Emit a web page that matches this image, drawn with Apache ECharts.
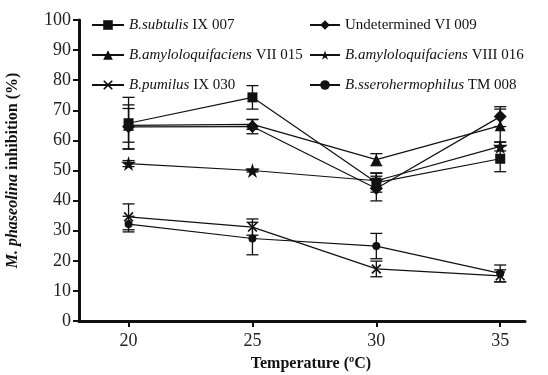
<!DOCTYPE html>
<html>
<head>
<meta charset="utf-8">
<script src="https://cdn.jsdelivr.net/npm/echarts@6/dist/echarts.min.js"></script>
<style>
  html, body { margin: 0; padding: 0; background: #fff; }
  #chart { width: 548px; height: 375px; }
</style>
</head>
<body>
<div id="chart"></div>
<script>
// temperatures (x)
const temps = [20, 25, 30, 35]
const xTicks = [20, 25, 30, 35]

// inhibition (%) and error bars
const subtulis = [65.7, 74.3, 46.0, 53.9]
const subtulisErr = [8.6, 3.9, 3.2, 4.3]
const undetermined = [64.5, 64.6, 44.0, 67.9]
const undeterminedErr = [7.3, 2.4, 4.1, 3.3]
const amyloVII = [65.0, 65.3, 53.6, 64.9]
const amyloVIIErr = [5.6, 1.6, 2.0, 5.5]
const amyloVIII = [52.3, 50.0, 46.6, 58.0]
const amyloVIIIErr = [1.0, 0.5, 2.5, 1.5]
const pumilus = [34.6, 31.2, 17.3, 15.0]
const pumilusErr = [4.3, 2.7, 2.6, 2.0]
const sseroher = [32.2, 27.4, 24.9, 15.8]
const sseroherErr = [2.6, 5.4, 4.2, 2.8]

const starPath = 'path://M50,0 L61,35 L98,35 L68,57 L79,91 L50,70 L21,91 L32,57 L2,35 L39,35 Z'
const crossPath = 'path://M0,1.2 L1.2,0 L5,3.8 L8.8,0 L10,1.2 L6.2,5 L10,8.8 L8.8,10 L5,6.2 L1.2,10 L0,8.8 L3.8,5 Z'

const seriesDefs = [
  { name: 'B.subtulis IX 007', values: subtulis, err: subtulisErr, symbol: 'rect', size: 10 },
  { name: 'Undetermined VI 009', values: undetermined, err: undeterminedErr, symbol: 'diamond', size: 13 },
  { name: 'B.amyloloquifaciens VII 015', values: amyloVII, err: amyloVIIErr, symbol: 'triangle', size: 11 },
  { name: 'B.amyloloquifaciens VIII 016', values: amyloVIII, err: amyloVIIIErr, symbol: starPath, size: 15 },
  { name: 'B.pumilus IX 030', values: pumilus, err: pumilusErr, symbol: crossPath, size: 10 },
  { name: 'B.sserohermophilus TM 008', values: sseroher, err: sseroherErr, symbol: 'circle', size: 8 }
]

const ink = '#111'
const serif = 'Liberation Serif'

const chart = echarts.init(document.getElementById('chart'))

const errorBar = (params, api) => {
  const x = api.value(0)
  const y = api.value(1)
  const e = api.value(2)
  const top = api.coord([x, y + e])
  const bot = api.coord([x, y - e])
  const hw = 6
  const style = { stroke: ink, lineWidth: 1.3 }
  return {
    type: 'group',
    children: [
      { type: 'line', shape: { x1: top[0], y1: top[1], x2: bot[0], y2: bot[1] }, style },
      { type: 'line', shape: { x1: top[0] - hw, y1: top[1], x2: top[0] + hw, y2: top[1] }, style },
      { type: 'line', shape: { x1: bot[0] - hw, y1: bot[1], x2: bot[0] + hw, y2: bot[1] }, style }
    ]
  }
}

const series = []
seriesDefs.forEach(d => {
  series.push({
    name: d.name,
    type: 'line',
    data: temps.map((t, i) => [t, d.values[i]]),
    symbol: d.symbol,
    symbolSize: d.size,
    showSymbol: true,
    lineStyle: { color: ink, width: 1.2 },
    itemStyle: { color: ink, borderColor: ink, borderWidth: 0 },
    z: 3
  })
  series.push({
    name: d.name + ' (error)',
    type: 'custom',
    renderItem: errorBar,
    data: temps.map((t, i) => [t, d.values[i], d.err[i]]),
    itemStyle: { color: ink },
    z: 1,
    silent: true
  })
})

const legendText = {
  fontFamily: serif,
  fontSize: 15,
  color: ink,
  lineHeight: 16,
  rich: {
    i: { fontFamily: serif, fontSize: 15, fontStyle: 'italic', color: ink }
  }
}
const legendFormatter = name => {
  if (name.startsWith('B.')) {
    const k = name.indexOf(' ')
    return '{i|' + name.slice(0, k) + '}' + name.slice(k)
  }
  return name
}

const option = {
  animation: false,
  color: [ink],
  grid: { left: 79, right: 23, top: 20, bottom: 54, outerBoundsMode: 'none' },
  legend: [
    {
      data: [seriesDefs[0].name, seriesDefs[2].name, seriesDefs[4].name],
      orient: 'vertical',
      left: 86, top: 12,
      itemWidth: 32, itemHeight: 12, itemGap: 14,
      textStyle: legendText,
      formatter: legendFormatter,
      selectedMode: false
    },
    {
      data: [seriesDefs[1].name, seriesDefs[3].name, seriesDefs[5].name],
      orient: 'vertical',
      left: 304, top: 12,
      itemWidth: 30, itemHeight: 12, itemGap: 14,
      textStyle: legendText,
      formatter: legendFormatter,
      selectedMode: false
    }
  ],
  xAxis: {
    type: 'value',
    min: 18,
    max: 36,
    name: 'Temperature (ºC)',
    nameLocation: 'middle',
    nameGap: 35,
    nameTextStyle: { fontFamily: serif, fontSize: 16, fontWeight: 'bold', color: ink, padding: [0, 0, 0, 18] },
    axisLine: { lineStyle: { color: ink, width: 3 } },
    axisTick: { customValues: xTicks, length: 6, lineStyle: { color: ink, width: 2 } },
    axisLabel: { customValues: xTicks, fontFamily: serif, fontSize: 18, color: '#222', margin: 11 },
    splitLine: { show: false }
  },
  yAxis: {
    type: 'value',
    min: 0,
    max: 100,
    interval: 10,
    name: '{bi|M. phaseolina} inhibition (%)',
    nameLocation: 'middle',
    nameGap: 58,
    nameRotate: 90,
    nameTextStyle: {
      fontFamily: serif, fontSize: 16, fontWeight: 'bold', color: ink,
      rich: {
        bi: { fontFamily: serif, fontSize: 16, fontWeight: 'bold', fontStyle: 'italic', color: ink }
      }
    },
    axisLine: { show: true, lineStyle: { color: ink, width: 3 } },
    axisTick: { show: true, length: 6, lineStyle: { color: ink, width: 2 } },
    axisLabel: { fontFamily: serif, fontSize: 18, color: '#222', margin: 8 },
    splitLine: { show: false }
  },
  series
}

chart.setOption(option)
</script>
</body>
</html>
